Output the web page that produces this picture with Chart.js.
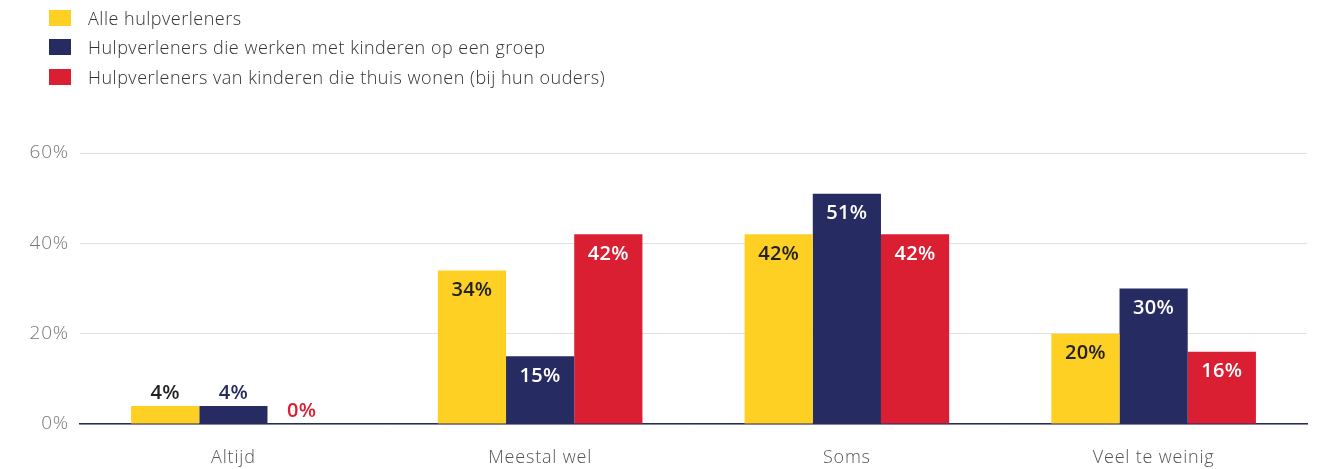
<!DOCTYPE html>
<html>
<head>
<meta charset="utf-8">
<script src="https://cdn.jsdelivr.net/npm/chart.js@4"></script>
<style>
  body { margin: 0; background: #fff; }
  #wrap { position: relative; width: 1326px; height: 469px; }
  #legend { position: absolute; left: 49px; top: 3px; font-family: "Open Sans", sans-serif; font-weight: 300; font-size: 18px; letter-spacing: 0.5px; color: #333; }
  #legend div { height: 29.5px; display: flex; align-items: center; }
  #legend span.box { display: inline-block; width: 22px; height: 16px; margin-right: 17px; }
</style>
</head>
<body>
<div id="wrap">
  <div id="legend"></div>
  <canvas id="myChart" width="1326" height="469"></canvas>
</div>
<script>
// categorieën en reeksen
const categories = ['Altijd', 'Meestal wel', 'Soms', 'Veel te weinig'];
const seriesNames = [
  'Alle hulpverleners',
  'Hulpverleners die werken met kinderen op een groep',
  'Hulpverleners van kinderen die thuis wonen (bij hun ouders)'
];
const alleHulpverleners = [4, 34, 42, 20];
const groepHulpverleners = [4, 15, 51, 30];
const thuisHulpverleners = [0, 42, 42, 16];
const yTicks = [0, 20, 40, 60];

const colors = ['#FDD023', '#262B61', '#DA1F33'];
const insideText = ['#222222', '#ffffff', '#ffffff'];
const outsideText = ['#222222', '#262B61', '#DA1F33'];

// legenda in html
const legendDiv = document.getElementById('legend');
seriesNames.forEach((name, i) => {
  legendDiv.innerHTML += `<div><span class="box" style="background:${colors[i]}"></span>${name}</div>`;
});

// iets bredere letters voor de as-labels
const spacing = {
  id: 'spacing',
  beforeDraw(chart) { chart.ctx.letterSpacing = '0.8px'; },
  afterDraw(chart) { chart.ctx.letterSpacing = '0px'; }
};

// waarden op de balken
const valueLabels = {
  id: 'valueLabels',
  afterDatasetsDraw(chart) {
    const ctx = chart.ctx;
    ctx.save();
    ctx.letterSpacing = '0.3px';
    ctx.font = '600 20px "Open Sans", sans-serif';
    ctx.textAlign = 'center';
    ctx.textBaseline = 'middle';
    chart.data.datasets.forEach((ds, i) => {
      chart.getDatasetMeta(i).data.forEach((bar, j) => {
        const h = bar.base - bar.y;
        const txt = ds.data[j] + '%';
        if (h > 30) {
          ctx.fillStyle = insideText[i];
          ctx.fillText(txt, bar.x, bar.y + 20);
        } else {
          ctx.fillStyle = outsideText[i];
          ctx.fillText(txt, bar.x, bar.y - 13);
        }
      });
    });
    ctx.restore();
  }
};

const ctx = document.getElementById('myChart').getContext('2d');
new Chart(ctx, {
  type: 'bar',
  data: {
    labels: categories,
    datasets: [alleHulpverleners, groepHulpverleners, thuisHulpverleners].map((d, i) => ({
      label: seriesNames[i],
      data: d,
      backgroundColor: colors[i],
      categoryPercentage: 0.667,
      barPercentage: 1.0
    }))
  },
  options: {
    responsive: false,
    animation: false,
    layout: { padding: { top: 153, right: 19, bottom: 0, left: 0 } },
    plugins: { legend: { display: false }, tooltip: { enabled: false } },
    scales: {
      x: {
        grid: { display: false },
        border: { color: '#262B61', width: 1.5 },
        ticks: { color: '#555', font: { family: 'Open Sans', size: 18, weight: 300 }, padding: 15 },
        afterFit: s => { s.height = 45; }
      },
      y: {
        min: 0,
        max: 60,
        afterBuildTicks: s => { s.ticks = yTicks.map(v => ({ value: v })); },
        grid: { color: '#e3e0dc', lineWidth: 1, drawTicks: false },
        border: { display: false },
        ticks: {
          color: '#777',
          font: { family: 'Open Sans', size: 19, weight: 300 },
          padding: 11,
          callback: v => v + '%'
        },
        afterFit: s => { s.width = 80; }
      }
    }
  },
  plugins: [spacing, valueLabels]
});
</script>
</body>
</html>
